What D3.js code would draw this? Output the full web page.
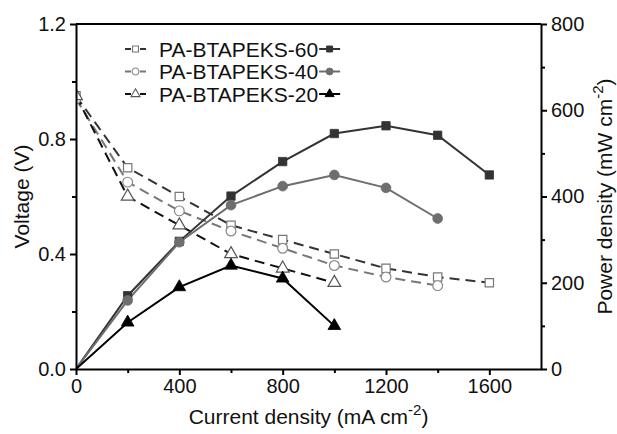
<!DOCTYPE html>
<html>
<head>
<meta charset="utf-8">
<script src="https://cdn.jsdelivr.net/npm/d3@7"></script>
<style>
  body { margin: 0; background: #fff; }
  svg { display: block; font-family: "Liberation Sans", Arial, sans-serif; }
</style>
</head>
<body>
<svg id="chart" width="617" height="434"></svg>
<script>
// Current density (mA cm-2) sample points
const current = [0, 200, 400, 600, 800, 1000, 1200, 1400, 1600];

// Cell voltage (V)
const voltage60 = [0.95, 0.70, 0.60, 0.50, 0.45, 0.40, 0.35, 0.32, 0.30];
const voltage40 = [0.94, 0.65, 0.55, 0.48, 0.42, 0.36, 0.32, 0.29];
const voltage20 = [0.95, 0.60, 0.50, 0.40, 0.35, 0.30];

// Power density (mW cm-2)
const power60 = [0, 170, 296, 401, 481, 546, 564, 542, 450];
const power40 = [0, 159, 294, 380, 424, 450, 420, 349];
const power20 = [0, 108, 190, 240, 210, 100];

const seriesNames = ["PA-BTAPEKS-60", "PA-BTAPEKS-40", "PA-BTAPEKS-20"];

const xTicks = [0, 400, 800, 1200, 1600];
const yLeftTicks = [0.0, 0.4, 0.8, 1.2];
const yRightTicks = [0, 200, 400, 600, 800];

const svg = d3.select("#chart");
const plot = { left: 76, right: 541, top: 24, bottom: 369 };

const x = d3.scaleLinear().domain([0, 1800]).range([plot.left, plot.right]);
const yV = d3.scaleLinear().domain([0, 1.2]).range([plot.bottom, plot.top]);
const yP = d3.scaleLinear().domain([0, 800]).range([plot.bottom, plot.top]);

svg.append("defs").append("clipPath").attr("id", "plot-clip")
  .append("rect").attr("x", plot.left).attr("y", plot.top)
  .attr("width", plot.right - plot.left).attr("height", plot.bottom - plot.top);

const series = [
  { name: seriesNames[0], v: voltage60, p: power60, shape: d3.symbolSquare, size: 70,
    dashColor: "#333", openStroke: "#777", solid: "#333" },
  { name: seriesNames[1], v: voltage40, p: power40, shape: d3.symbolCircle, size: 75,
    dashColor: "#777", openStroke: "#888", solid: "#6e6e6e" },
  { name: seriesNames[2], v: voltage20, p: power20, shape: d3.symbolTriangle, size: 70,
    dashColor: "#111", openStroke: "#555", solid: "#000" }
];

const marks = svg.append("g").attr("clip-path", "url(#plot-clip)");

// Polarisation curves (dashed, open markers)
series.forEach(s => {
  const pts = s.v.map((d, i) => [current[i], d]);
  marks.append("path")
    .attr("d", d3.line().x(d => x(d[0])).y(d => yV(d[1]))(pts))
    .attr("fill", "none").attr("stroke", s.dashColor)
    .attr("stroke-width", 2).attr("stroke-dasharray", "10,6");
});

// Power density curves (solid, filled markers)
series.forEach(s => {
  const pts = s.p.map((d, i) => [current[i], d]);
  marks.append("path")
    .attr("d", d3.line().x(d => x(d[0])).y(d => yP(d[1]))(pts))
    .attr("fill", "none").attr("stroke", s.solid).attr("stroke-width", 2);
});

series.forEach(s => {
  s.v.forEach((d, i) => {
    marks.append("path")
      .attr("d", d3.symbol().type(s.shape).size(s.size)())
      .attr("transform", `translate(${x(current[i])},${yV(d)})`)
      .attr("fill", "#fff").attr("stroke", s.openStroke).attr("stroke-width", 1.2);
  });
  s.p.forEach((d, i) => {
    if (i === 0) return;
    marks.append("path")
      .attr("d", d3.symbol().type(s.shape).size(s.size)())
      .attr("transform", `translate(${x(current[i])},${yP(d)})`)
      .attr("fill", s.solid).attr("stroke", s.solid).attr("stroke-width", 0.8);
  });
});

// Frame
svg.append("line").attr("x1", plot.left).attr("x2", plot.right)
  .attr("y1", plot.top).attr("y2", plot.top)
  .attr("stroke", "#000").attr("stroke-width", 2);

function styleAxis(g) {
  g.select(".domain").attr("stroke-width", 2);
  g.selectAll(".tick line").attr("stroke-width", 2);
  g.selectAll(".tick text").attr("font-size", 20).attr("fill", "#111");
}

// Bottom axis
const xAxis = svg.append("g").attr("transform", `translate(0,${plot.bottom})`)
  .call(d3.axisBottom(x).tickValues(xTicks).tickSize(6).tickSizeOuter(0).tickPadding(4).tickFormat(d3.format("d")));
styleAxis(xAxis);
svg.append("g").attr("transform", `translate(0,${plot.bottom})`)
  .call(d3.axisBottom(x).tickValues([200, 600, 1000, 1400]).tickSize(4).tickFormat(""))
  .call(g => g.select(".domain").remove())
  .selectAll("line").attr("stroke-width", 2);

// Left axis
const yLAxis = svg.append("g").attr("transform", `translate(${plot.left},0)`)
  .call(d3.axisLeft(yV).tickValues(yLeftTicks).tickSize(6).tickSizeOuter(0).tickPadding(4).tickFormat(d3.format(".1f")));
styleAxis(yLAxis);
svg.append("g").attr("transform", `translate(${plot.left},0)`)
  .call(d3.axisLeft(yV).tickValues([0.2, 0.6, 1.0]).tickSize(4).tickFormat(""))
  .call(g => g.select(".domain").remove())
  .selectAll("line").attr("stroke-width", 2);

// Right axis
const yRAxis = svg.append("g").attr("transform", `translate(${plot.right},0)`)
  .call(d3.axisRight(yP).tickValues(yRightTicks).tickSize(6).tickSizeOuter(0).tickPadding(4).tickFormat(d3.format("d")));
styleAxis(yRAxis);
svg.append("g").attr("transform", `translate(${plot.right},0)`)
  .call(d3.axisRight(yP).tickValues([100, 300, 500, 700]).tickSize(4).tickFormat(""))
  .call(g => g.select(".domain").remove())
  .selectAll("line").attr("stroke-width", 2);

// Axis titles
const xt = svg.append("text").attr("x", (plot.left + plot.right) / 2).attr("y", 424)
  .attr("text-anchor", "middle").attr("font-size", 21).attr("fill", "#111");
xt.append("tspan").text("Current density (mA cm");
xt.append("tspan").attr("dy", -9).attr("font-size", 15).text("-2");
xt.append("tspan").attr("dy", 9).text(")");

svg.append("text").attr("transform", `translate(29,${(plot.top + plot.bottom) / 2}) rotate(-90)`)
  .attr("text-anchor", "middle").attr("font-size", 21).attr("fill", "#111").text("Voltage (V)");

const yt = svg.append("text").attr("transform", `translate(612,${(plot.top + plot.bottom) / 2}) rotate(-90)`)
  .attr("text-anchor", "middle").attr("font-size", 21).attr("fill", "#111");
yt.append("tspan").text("Power density (mW cm");
yt.append("tspan").attr("dy", -9).attr("font-size", 15).text("-2");
yt.append("tspan").attr("dy", 9).text(")");

// Legend
const legend = svg.append("g");
series.forEach((s, i) => {
  const cy = 49 + i * 22.5;
  const row = legend.append("g").attr("transform", `translate(0,${cy})`);
  row.append("line").attr("x1", 125).attr("x2", 146).attr("stroke", s.dashColor)
    .attr("stroke-width", 2).attr("stroke-dasharray", "6,9");
  row.append("path").attr("d", d3.symbol().type(s.shape).size(s.size * 0.5)())
    .attr("transform", "translate(135.5,0)")
    .attr("fill", "#fff").attr("stroke", s.openStroke).attr("stroke-width", 1.1);
  const t = row.append("text").attr("x", 159).attr("y", 7.5).attr("font-size", 21)
    .attr("fill", "#111").text(s.name);
  const w = t.node().getComputedTextLength();
  const sx = 159 + w + 1;
  row.append("line").attr("x1", sx).attr("x2", sx + 21).attr("stroke", s.solid)
    .attr("stroke-width", 2);
  row.append("path").attr("d", d3.symbol().type(s.shape).size(s.size * 0.5)())
    .attr("transform", `translate(${sx + 10.5},0)`)
    .attr("fill", s.solid).attr("stroke", s.solid);
});
</script>
</body>
</html>
